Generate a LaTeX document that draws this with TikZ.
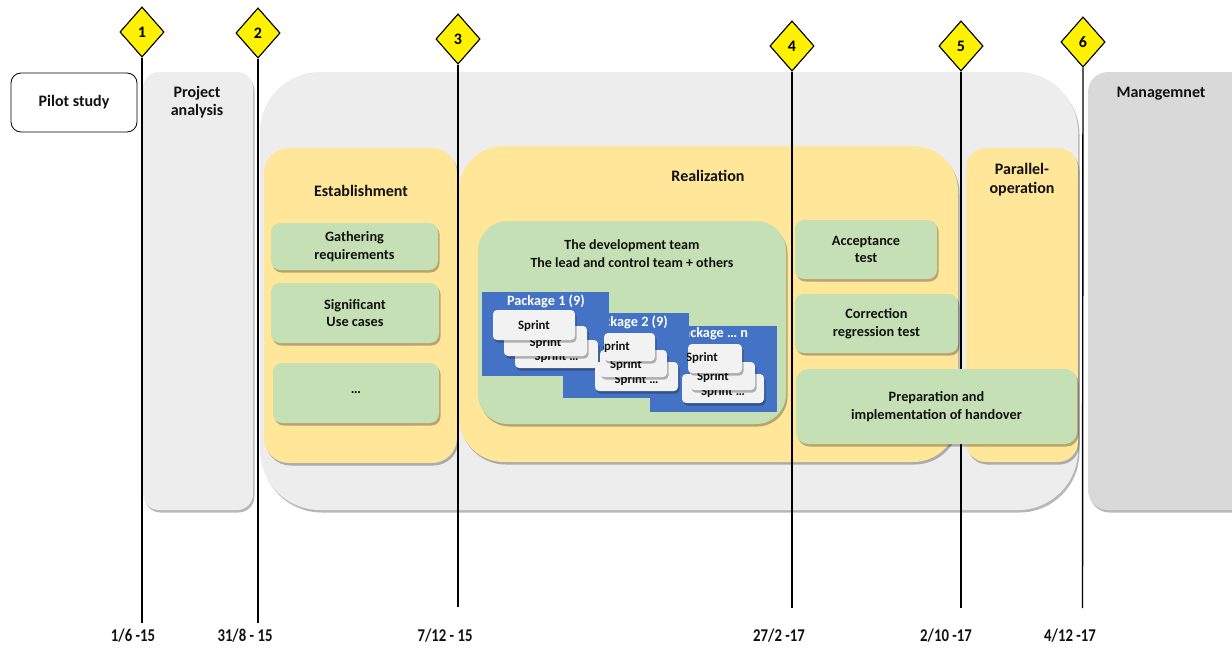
\documentclass[tikz,border=0pt]{standalone}
\usepackage{fontspec}
\setmainfont{Carlito}
\newfontfamily\condfont{Carlito Bold}[FakeStretch=0.82]
\usetikzlibrary{shapes.geometric,shadows}
\definecolor{gbox}{HTML}{EDEDED}
\definecolor{mgray}{HTML}{D9D9D9}
\definecolor{yel}{HTML}{FFE699}
\definecolor{grn}{HTML}{C5E0B4}
\definecolor{blu}{HTML}{4472C4}
\definecolor{spr}{HTML}{F2F2F2}
\definecolor{txt}{HTML}{111111}
\tikzset{
  shad/.style={drop shadow={shadow xshift=1.5pt,shadow yshift=-2.5pt,opacity=0.28,fill=black}},
  area/.style={rectangle,inner sep=0pt,draw=none,shad},
  lbl/.style={inner sep=0pt,align=center,text=txt,font=\bfseries\fontsize{16}{18.5}\selectfont},
  gbx/.style={area,fill=grn,rounded corners=9pt,align=center,text=txt,font=\bfseries\fontsize{14.3}{17.5}\selectfont},
  pkg/.style={rectangle,inner sep=0pt,draw=none,fill=blu},
  pkgt/.style={inner sep=0pt,text=white,font=\bfseries\fontsize{14.3}{16}\selectfont},
  spbox/.style={rectangle,inner sep=0pt,draw=none,fill=spr,rounded corners=4pt,shad},
  spt/.style={inner sep=0pt,text=txt,font=\bfseries\fontsize{12.8}{14}\selectfont},
  ms/.style={draw=black,line width=1.4pt},
  dia/.style={diamond,draw=black,line width=1pt,fill=yellow,minimum width=44pt,minimum height=50pt,inner sep=0pt,text=black,font=\bfseries\fontsize{16}{18}\selectfont},
  datet/.style={inner sep=0pt,text=txt,font=\condfont\fontsize{18}{20}\selectfont}
}
\begin{document}
\begin{tikzpicture}[x=1pt,y=-1pt]
\useasboundingbox (0,0) rectangle (1232,648);

% outer areas
\node[rectangle,fill=white,draw=black,line width=0.8pt,rounded corners=10pt,minimum width=126pt,minimum height=59pt,lbl] (pilot) at (74,102.5) {Pilot study};
\node[area,fill=gbox,rounded corners=16pt,minimum width=110pt,minimum height=438pt] (proj) at (198,291) {};
\node[lbl] (projt) at (197,102) {Project\\analysis};
\node[area,fill=gbox,rounded corners=60pt,minimum width=818pt,minimum height=438pt] (big) at (669,291) {};
\node[area,fill=mgray,rounded corners=20pt,minimum width=170pt,minimum height=438pt] (mgmt) at (1173,291) {};
\node[lbl] (mgmtt) at (1161,94) {Managemnet};

% phases
\node[area,fill=yel,rounded corners=25pt,minimum width=193pt,minimum height=315pt] (est) at (360.5,305.5) {};
\node[lbl] (estt) at (361,191) {Establishment};
\node[area,fill=yel,rounded corners=45pt,minimum width=499pt,minimum height=316pt] (real) at (708.5,304) {};
\node[lbl] (realt) at (708,176) {Realization};
\node[area,fill=yel,rounded corners=20pt,minimum width=112pt,minimum height=314pt] (par) at (1022,305) {};
\node[lbl] (part) at (1022,179.5) {Parallel-\\operation};

% establishment items
\node[gbx,minimum width=167pt,minimum height=47pt] (gath) at (354.5,246.5) {Gathering\\requirements};
\node[gbx,minimum width=168pt,minimum height=60pt] (sig) at (355,313) {Significant\\Use cases};
\node[gbx,minimum width=166pt,minimum height=60pt] (dots) at (356,393) {…};

% realization items
\node[gbx,rounded corners=30pt,minimum width=308pt,minimum height=203pt] (dev) at (632,322.5) {};
\node[inner sep=0pt,align=center,text=txt,font=\bfseries\fontsize{14}{18.5}\selectfont] (devt) at (632,253.5) {The development team\\The lead and control team + others};
\node[gbx,minimum width=142pt,minimum height=59pt] (acc) at (866,249.5) {Acceptance\\test};
\node[gbx,minimum width=163pt,minimum height=59pt] (corr) at (876.5,323.5) {Correction\\regression test};

% packages
\node[pkg,minimum width=127pt,minimum height=86pt] (pn) at (713.5,369) {};
\node[pkgt] (pnt) at (712,334) {Package … n};
\node[pkg,minimum width=126pt,minimum height=85pt] (p2) at (626,355.5) {};
\node[pkgt] (p2t) at (629,322) {Package 2 (9)};
\node[pkg,minimum width=127pt,minimum height=84pt] (p1) at (545.5,334) {};
\node[pkgt] (p1t) at (546,301) {Package 1 (9)};

% package 1 sprints
\node[spbox,minimum width=83pt,minimum height=28pt] (a3) at (556.5,354) {};
\node[spt] (a3t) at (556.5,357) {Sprint …};
\node[spbox,minimum width=83pt,minimum height=30pt] (a2) at (545.5,341) {};
\node[spt] (a2t) at (545.5,343) {Sprint};
\node[spbox,minimum width=82pt,minimum height=30pt] (a1) at (534,325) {};
\node[spt] (a1t) at (534,326) {Sprint};

% package 2 sprints
\node[spbox,minimum width=83pt,minimum height=29pt] (b3) at (636.5,376.5) {};
\node[spt] (b3t) at (636.5,380) {Sprint …};
\node[spbox,minimum width=67pt,minimum height=27pt] (b2) at (633.5,363.5) {};
\node[spt] (b2t) at (626,365) {Sprint};
\node[spbox,minimum width=51pt,minimum height=28pt] (b1) at (629.5,347) {};
\begin{scope}
\clip (b1.south west) rectangle (b1.north east);
\node[spt] (b1t) at (614,347) {Sprint};
\end{scope}

% package n sprints
\node[spbox,minimum width=82pt,minimum height=29pt] (c3) at (723,388.5) {};
\node[spt] (c3t) at (723,392) {Sprint …};
\node[spbox,minimum width=65pt,minimum height=28pt] (c2) at (722.5,376) {};
\node[spt] (c2t) at (713,377) {Sprint};
\node[spbox,minimum width=54pt,minimum height=29pt] (c1) at (715,358.5) {};
\begin{scope}
\clip (c1.south west) rectangle (c1.north east);
\node[spt] (c1t) at (702,358.5) {Sprint};
\end{scope}

% milestones
\node[dia] (d1) at (142,32) {1};
\node[dia] (d2) at (258,33) {2};
\node[dia] (d3) at (458,39) {3};
\node[dia] (d4) at (792,46) {4};
\node[dia] (d5) at (961,46) {5};
\node[dia] (d6) at (1083,42) {6};
\coordinate (e1) at (142,623);
\coordinate (e2) at (258,623);
\coordinate (e3) at (458,607);
\coordinate (e4) at (792,608);
\coordinate (e5) at (961,608);
\coordinate (e6) at (1082.5,608);
\foreach \i in {1,...,6}{\draw[ms] (d\i.south) -- (e\i);}
\foreach \i in {1,...,6}{\node[dia] at (d\i) {\i};}

% handover on top of line 5
\node[gbx,rounded corners=12pt,minimum width=281pt,minimum height=75pt] (hand) at (936.5,406.5) {Preparation and\\implementation of handover};

% dates
\node[datet] (t1) at (133,636) {1/6 -15};
\node[datet] (t2) at (245,636) {31/8 - 15};
\node[datet] (t3) at (445,636) {7/12 - 15};
\node[datet] (t4) at (779,636) {27/2 -17};
\node[datet] (t5) at (946,636) {2/10 -17};
\node[datet] (t6) at (1070,636) {4/12 -17};
\end{tikzpicture}
\end{document}
